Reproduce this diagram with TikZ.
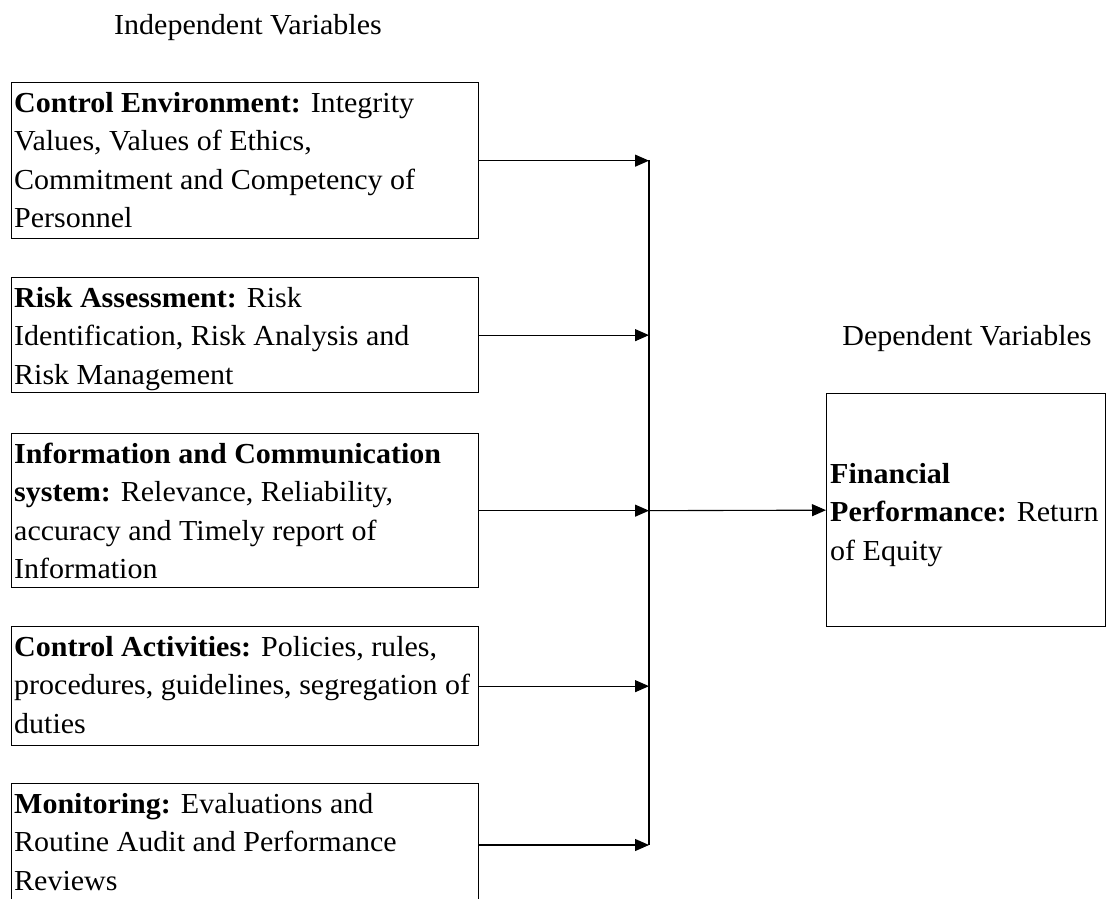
\documentclass[tikz,border=0pt]{standalone}
\usepackage{fontspec}
\setmainfont[FakeStretch=1.035]{Liberation Serif}
\usetikzlibrary{arrows.meta}

\tikzset{
  vbox/.style={draw, line width=1.3pt, minimum width=467pt, inner sep=0pt,
               anchor=north west},
  % anchored at the baseline of the last line
  vtext/.style={anchor=base west, align=left, inner sep=0pt,
                font=\fontsize{29}{38.5}\selectfont},
  title/.style={anchor=base, inner sep=0pt, font=\fontsize{29}{38.5}\selectfont},
  link/.style={line width=1.1pt, -{Triangle[length=14pt,width=12pt]}},
  bus/.style={line width=1.3pt}
}

\begin{document}
\begin{tikzpicture}[x=1pt, y=-1pt]
  \clip (0,0) rectangle (1109,898);

  % headings
  \node[title] (hin) at (248,34) {Independent Variables};
  \node[title] (hdep) at (967,345) {Dependent Variables};

  % independent variable boxes
  \node[vbox, minimum height=156pt] (b1) at (11,82) {};
  \node[vtext] (t1) at (14,227.5) {\textbf{Control Environment:} Integrity\\
    Values, Values of Ethics,\\ Commitment and Competency of\\ Personnel};

  \node[vbox, minimum height=115pt] (b2) at (11,277) {};
  \node[vtext] (t2) at (14,384) {\textbf{Risk Assessment:} Risk\\
    Identification, Risk Analysis and\\ Risk Management};

  \node[vbox, minimum height=154pt] (b3) at (11,433) {};
  \node[vtext] (t3) at (14,578.5) {\textbf{Information and Communication}\\
    \textbf{system:} Relevance, Reliability,\\ accuracy and Timely report of\\ Information};

  \node[vbox, minimum height=119pt] (b4) at (11,626) {};
  \node[vtext] (t4) at (14,733) {\textbf{Control Activities:} Policies, rules,\\
    procedures, guidelines, segregation of\\ duties};

  \node[vbox, minimum height=124pt] (b5) at (11,783) {};
  \node[vtext] (t5) at (14,890) {\textbf{Monitoring:} Evaluations and\\
    Routine Audit and Performance\\ Reviews};

  % dependent variable box
  \node[vbox, minimum width=279pt, minimum height=233pt] (dv) at (826,393) {};
  \node[vtext] (tdv) at (830,560) {\textbf{Financial}\\
    \textbf{Performance:} Return\\ of Equity};

  % collecting line
  \coordinate (bustop) at (649,160);
  \coordinate (busbot) at (649,845);
  \draw[bus] (bustop) -- (busbot);

  \draw[link] (b1.east) -- (b1.east -| bustop);
  \draw[link] (b2.east) -- (b2.east -| bustop);
  \draw[link] (b3.east) -- (b3.east -| bustop);
  \draw[link] (b4.east) -- (b4.east -| bustop);
  \draw[link] (b5.east |- busbot) -- (busbot);
  \draw[link] (b3.east -| bustop) -- (dv.west);
\end{tikzpicture}
\end{document}
